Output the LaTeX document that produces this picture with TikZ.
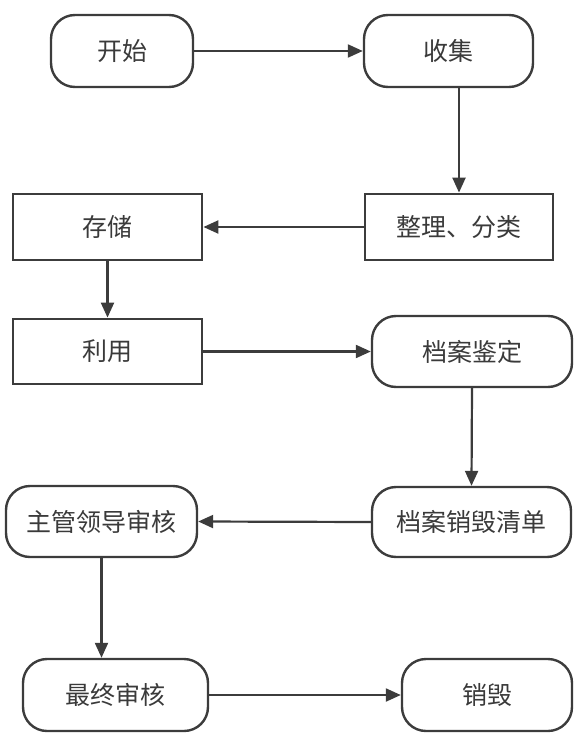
\documentclass[tikz,border=0pt]{standalone}
\usepackage{fontspec}
\setmainfont{Noto Sans CJK SC}
\usepackage{xcolor}
\usetikzlibrary{positioning}
\usetikzlibrary{arrows.meta}
\definecolor{lineGray}{HTML}{3C3C3C}
\definecolor{textGray}{HTML}{3A3A3A}
\def\boxHeight{66}
\def\roundHeight{72}
\tikzset{% flowchart styles
  terminal/.style = {fill=white, draw=lineGray, line width=2.4bp, rounded corners=24bp,
    minimum height=\roundHeight bp, align=center, inner sep=0pt, text=textGray,
    font=\fontsize{25bp}{30bp}\selectfont},
  process/.style  = {fill=white, draw=lineGray, line width=2.8bp, rectangle,
    minimum height=\boxHeight bp, align=center, inner sep=0pt, text=textGray,
    font=\fontsize{25bp}{30bp}\selectfont},
  flow/.style     = {draw=lineGray, line width=2.2bp, -{Triangle[length=15bp, width=13bp]}},
}
\begin{document}
\begin{tikzpicture}[x=1bp, y=-1bp]
        \useasboundingbox (0,0) rectangle (579,735);

        \node[terminal, minimum width=142bp] at (122,51) (KS) {开始};
        \node[terminal, minimum width=169bp] at (448.5,51) (SJ) {收集};

        \node[process, minimum width=188bp] at (459,227) (ZL) {整理、分类};
        \node[process, minimum width=189bp] at (107.5,227) (CC) {存储};

        \node[process, minimum width=189bp, minimum height=65bp] at (107.5,351.5) (LY) {利用};
        \node[terminal, minimum width=200bp, minimum height=71bp] at (472,351.5) (JD) {档案鉴定};

        \node[terminal, minimum width=199bp, minimum height=70bp] at (471.5,522) (QD) {档案销毁清单};
        \node[terminal, minimum width=191bp, minimum height=71bp] at (101.5,521.5) (SH) {主管领导审核};

        \node[terminal, minimum width=185bp] at (115.5,695) (ZS) {最终审核};
        \node[terminal, minimum width=170bp] at (487,695) (XH) {销毁};

        \draw[flow] (KS.east) -- (SJ.west);
        \draw[flow] (SJ.south -| ZL.north) -- (ZL.north);
        \draw[flow] (ZL.west) -- (CC.east);
        \draw[flow] (CC.south) -- (LY.north);
        \draw[flow] (LY.east) -- (JD.west);
        \draw[flow] (JD.south) -- (QD.north);
        \draw[flow] (QD.west) -- (SH.east);
        \draw[flow] (SH.south) -- (SH.south |- ZS.north);
        \draw[flow] (ZS.east) -- (XH.west);

\end{tikzpicture}
\end{document}
